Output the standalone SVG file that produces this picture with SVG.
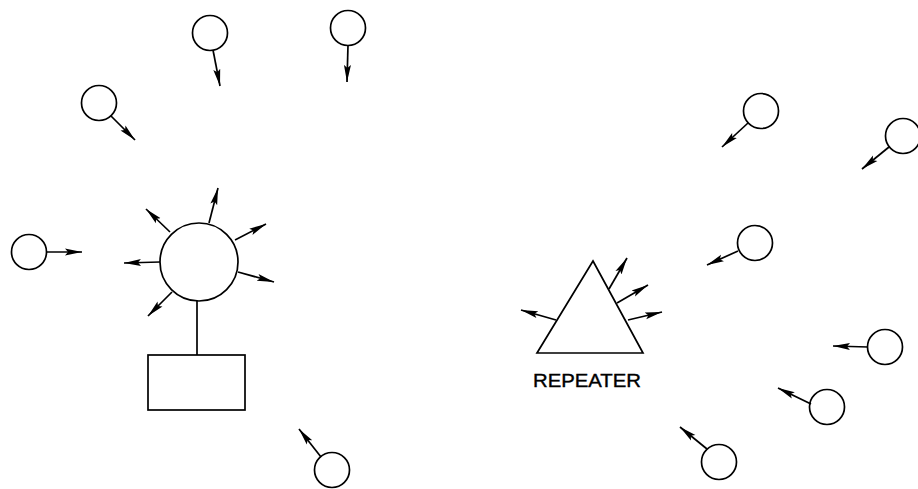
<svg xmlns="http://www.w3.org/2000/svg" width="918" height="489" viewBox="0 0 918 489">
<style>
.n{fill:#fff;stroke:#000;stroke-width:1.7}
.c{stroke:#000;stroke-width:1.7;fill:none;marker-end:url(#ah)}
.l{stroke:#000;stroke-width:1.7;fill:none}
.t{font-family:"Liberation Sans",Arial,sans-serif;font-size:19px;fill:#000;stroke:#000;stroke-width:0.4}
</style>
<defs>
<marker id="ah" markerUnits="userSpaceOnUse" markerWidth="18" markerHeight="10" refX="17" refY="5" orient="auto">
<path d="M0,1.5 L17,5 L0,8.5 L3,5 Z" fill="#000"/>
</marker>
</defs>
<rect width="918" height="489" fill="#fff"/>
<g id="base-station"><circle class="n" cx="199" cy="262" r="39"/></g>
<g id="controller"><rect class="n" x="148" y="355" width="97" height="55"/></g>
<g id="repeater"><polygon class="n" points="593,261 643,353 537,353"/><text class="t" x="533" y="387" textLength="108" lengthAdjust="spacingAndGlyphs">REPEATER</text></g>
<g id="m1"><circle class="n" cx="210" cy="33" r="17.5"/></g>
<g id="m2"><circle class="n" cx="348" cy="28" r="17.5"/></g>
<g id="m3"><circle class="n" cx="99" cy="103" r="17.5"/></g>
<g id="m4"><circle class="n" cx="29" cy="252" r="17.5"/></g>
<g id="m5"><circle class="n" cx="332" cy="470" r="17.5"/></g>
<g id="m6"><circle class="n" cx="761" cy="111" r="17.5"/></g>
<g id="m7"><circle class="n" cx="903" cy="136" r="17.5"/></g>
<g id="m8"><circle class="n" cx="755" cy="243" r="17.5"/></g>
<g id="m9"><circle class="n" cx="885" cy="347" r="17.5"/></g>
<g id="m10"><circle class="n" cx="827" cy="407" r="17.5"/></g>
<g id="m11"><circle class="n" cx="719" cy="462" r="17.5"/></g>
<g id="connectors">
<line class="l" x1="197" y1="301" x2="197" y2="355"/>
<line class="c" x1="213" y1="50" x2="220" y2="86"/>
<line class="c" x1="348" y1="45" x2="347" y2="82"/>
<line class="c" x1="111" y1="116" x2="135" y2="140"/>
<line class="c" x1="46" y1="252" x2="82" y2="252"/>
<line class="c" x1="321" y1="457" x2="299" y2="429"/>
<line class="c" x1="209" y1="223" x2="218" y2="188"/>
<line class="c" x1="170" y1="232" x2="146" y2="209"/>
<line class="c" x1="235" y1="240" x2="266" y2="224"/>
<line class="c" x1="160" y1="262" x2="124" y2="263"/>
<line class="c" x1="238" y1="272" x2="274" y2="282"/>
<line class="c" x1="172" y1="292" x2="148" y2="316"/>
<line class="c" x1="748" y1="123" x2="722" y2="147"/>
<line class="c" x1="889" y1="147" x2="862" y2="169"/>
<line class="c" x1="738" y1="251" x2="707" y2="265"/>
<line class="c" x1="609" y1="289" x2="627" y2="258"/>
<line class="c" x1="617" y1="303" x2="648" y2="285"/>
<line class="c" x1="628" y1="320" x2="662" y2="312"/>
<line class="c" x1="556" y1="320" x2="521" y2="310"/>
<line class="c" x1="868" y1="347" x2="833" y2="346"/>
<line class="c" x1="811" y1="404" x2="778" y2="388"/>
<line class="c" x1="707" y1="449" x2="680" y2="427"/>
</g>
</svg>
